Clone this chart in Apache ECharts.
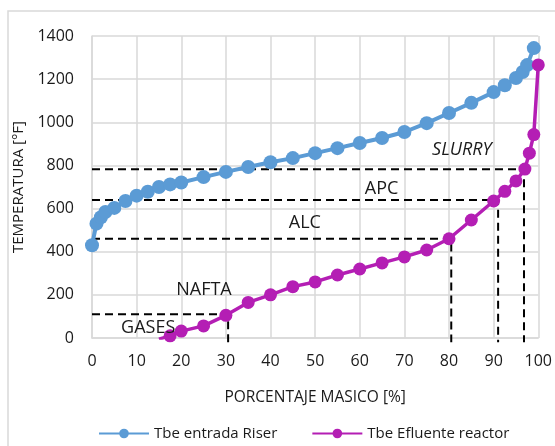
<!DOCTYPE html>
<html lang="es">
<head>
  <meta charset="utf-8">
  <title>Curvas TBP</title>
  <script src="https://cdn.jsdelivr.net/npm/echarts@6/dist/echarts.min.js"></script>
  <style>
    body { margin: 0; background: white; }
    #chart { width: 555px; height: 446px; }
  </style>
</head>
<body>
  <div id="chart"></div>
  <script>
    // --- Data.

    // Tbe entrada Riser (blue).
    const RISER_X = [0, 1, 2, 3, 5, 7.5, 10, 12.5, 15, 17.5, 20, 25, 30, 35, 40, 45, 50, 55, 60, 65, 70, 75, 80, 85, 90, 92.5, 95, 96.5, 97.5, 99];
    const RISER_Y = [430, 530, 560, 584, 603, 635, 660, 678, 700, 712, 721, 746, 770, 793, 815, 834, 857, 880, 904, 927, 955, 996, 1043, 1090, 1140, 1172, 1205, 1233, 1265, 1344];

    // Tbe Efluente reactor (magenta), first point sits below the axis and gets clipped.
    const EFLUENTE_X = [15, 17.5, 20, 25, 30, 35, 40, 45, 50, 55, 60, 65, 70, 75, 80, 85, 90, 92.5, 95, 97, 98, 99, 100];
    const EFLUENTE_Y = [-5, 10, 32, 56, 105, 165, 200, 238, 260, 292, 320, 348, 376, 408, 460, 547, 635, 680, 728, 783, 857, 943, 1266];

    // Cut points: temperature where the dashed line leaves the y axis, and % where it drops.
    const CUT_NAMES = ['GASES', 'ALC', 'APC', 'SLURRY'];
    const CUT_TEMP = [110, 460, 640, 782];
    const CUT_PCT = [30.5, 80.5, 91, 96.8];

    // Fraction labels and where they sit.
    const LABEL_NAMES = ['GASES', 'NAFTA', 'ALC', 'APC', 'SLURRY'];
    const LABEL_X = [12.7, 25.2, 47.8, 65, 83];
    const LABEL_Y = [46, 222, 533, 690, 872];

    const SERIES_NAMES = ['Tbe entrada Riser', 'Tbe Efluente reactor'];
    const BLUE = '#5B9BD5';
    const MAGENTA = '#B41EB4';
    const FONT = 'Open Sans';
    const INK = '#1a1a1a';

    const zip = (xs, ys) => xs.map((x, i) => [x, ys[i]]);

    // One dashed series per cut point: along from the y axis, then down.
    const cutSeries = CUT_NAMES.map((name, i) => ({
      name: 'cut ' + name,
      type: 'line',
      data: [[0, CUT_TEMP[i]], [CUT_PCT[i], CUT_TEMP[i]], [CUT_PCT[i], -20]],
      symbol: 'none',
      clip: false,
      silent: true,
      z: 1,
      lineStyle: { color: '#000', width: 2, type: [8, 5] }
    }));

    const chart = echarts.init(document.getElementById('chart'));
    chart.setOption({
      animation: false,
      textStyle: { fontFamily: FONT },
      graphic: [{
        type: 'rect',
        shape: { x: 8, y: 11, width: 700, height: 600 },
        style: { fill: 'none', stroke: '#d9d9d9', lineWidth: 1.5 },
        silent: true,
        z: -10
      }],
      grid: { left: 92, right: 7, top: 36, bottom: 108 },
      legend: {
        data: SERIES_NAMES,
        left: 93,
        top: 421,
        itemWidth: 50,
        itemHeight: 12,
        itemGap: 34,
        textStyle: { fontFamily: FONT, fontSize: 15, color: INK }
      },
      xAxis: {
        type: 'value',
        min: 0,
        max: 100,
        interval: 10,
        name: 'PORCENTAJE MASICO [%]',
        nameLocation: 'middle',
        nameGap: 52,
        nameTextStyle: { fontFamily: FONT, fontSize: 15.5, color: INK },
        axisLine: { lineStyle: { color: '#d9d9d9', width: 1.5 } },
        axisTick: { show: false },
        axisLabel: { margin: 15, fontFamily: FONT, fontSize: 16, color: INK },
        splitLine: { lineStyle: { color: '#d9d9d9', width: 1.5 } }
      },
      yAxis: {
        type: 'value',
        min: 0,
        max: 1400,
        interval: 200,
        name: 'TEMPERATURA [°F]',
        nameLocation: 'middle',
        nameGap: 56,
        nameTextStyle: { fontFamily: FONT, fontSize: 15, color: INK },
        axisLine: { show: true, lineStyle: { color: '#d9d9d9', width: 1.5 } },
        axisTick: { show: false },
        axisLabel: { margin: 18, fontFamily: FONT, fontSize: 16, color: INK, formatter: v => String(v) },
        splitLine: { lineStyle: { color: '#d9d9d9', width: 1.5 } }
      },
      series: [
        ...cutSeries,
        {
          name: SERIES_NAMES[0],
          type: 'line',
          data: zip(RISER_X, RISER_Y),
          symbol: 'circle',
          symbolSize: 14,
          z: 3,
          itemStyle: { color: BLUE },
          lineStyle: { color: BLUE, width: 4 }
        },
        {
          name: SERIES_NAMES[1],
          type: 'line',
          data: zip(EFLUENTE_X, EFLUENTE_Y),
          symbol: 'circle',
          symbolSize: 13,
          z: 4,
          itemStyle: { color: MAGENTA },
          lineStyle: { color: MAGENTA, width: 3.5 }
        },
        {
          name: 'labels',
          type: 'scatter',
          data: LABEL_NAMES.map((n, i) => ({
            name: n,
            value: [LABEL_X[i], LABEL_Y[i]],
            label: { fontStyle: n === 'SLURRY' ? 'italic' : 'normal' }
          })),
          symbolSize: 1,
          silent: true,
          z: 5,
          // scatter defaults to 0.8 opacity, which greys the labels too
          itemStyle: { color: 'rgba(0,0,0,0)', opacity: 1 },
          label: {
            show: true,
            position: [0, 0],
            align: 'center',
            verticalAlign: 'middle',
            formatter: p => p.name,
            fontFamily: FONT,
            fontSize: 18,
            color: INK,
            textBorderWidth: 0
          }
        }
      ]
    });
  </script>
</body>
</html>
